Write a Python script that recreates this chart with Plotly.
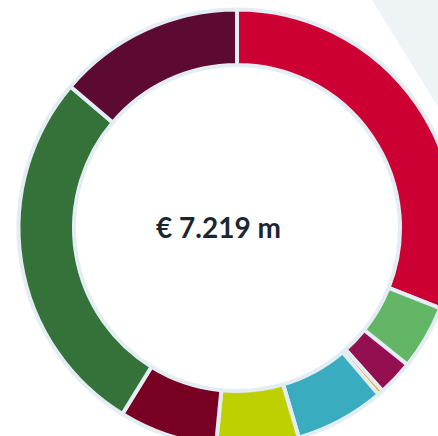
import plotly.graph_objects as go

# ---------------------------------------------------------------------------
# Data (EUR million)
# ---------------------------------------------------------------------------

SEGMENTS = ["Segment 1", "Segment 2", "Segment 3", "Segment 4", "Segment 5",
            "Segment 6", "Segment 7", "Segment 8", "Segment 9"]
VALUES = [2.237, 0.345, 0.190, 0.028, 0.480, 0.440, 0.524, 1.979, 0.996]
COLORS = ["#cc0033", "#62b665", "#930f4f", "#f0a30a", "#3aacbf",
          "#bfd000", "#780022", "#357239", "#5c0a32"]
TOTAL_LABEL = "€ 7.219 m"

# ---------------------------------------------------------------------------
# Design tokens
# ---------------------------------------------------------------------------

BORDER = "#e3edf3"
PANEL = "#eef3f6"
INK = "#1b2631"

W, H = 480, 480          # canvas is larger than the window; the right/bottom is cropped
CX, CY, R = 237, 228, 218.5


def px_x(v):
    return v / W


def px_y(v):
    return 1 - v / H


fig = go.Figure()

fig.add_trace(go.Pie(
    labels=SEGMENTS,
    values=VALUES,
    marker=dict(colors=COLORS, line=dict(color=BORDER, width=4)),
    hole=0.746,
    sort=False,
    direction="clockwise",
    rotation=0,
    textinfo="none",
    hoverinfo="label+value+percent",
    showlegend=False,
    domain=dict(x=[px_x(CX - R), px_x(CX + R)],
                y=[px_y(CY + R), px_y(CY - R)]),
))

fig.add_annotation(
    x=px_x(218), y=px_y(227), xref="paper", yref="paper",
    text=f"<b>{TOTAL_LABEL}</b>", showarrow=False,
    font=dict(family="Lato, sans-serif", size=28, color=INK),
)

# light decorative panel in the top-right corner
fig.add_shape(
    type="path", xref="paper", yref="paper", layer="below",
    path=f"M {px_x(372)} {px_y(0)} L {px_x(W)} {px_y(175)} L {px_x(W)} {px_y(0)} Z",
    fillcolor=PANEL, line=dict(width=0),
)

fig.update_layout(
    width=W, height=H,
    margin=dict(l=0, r=0, t=0, b=0),
    paper_bgcolor="white",
    plot_bgcolor="white",
)

fig.write_html(
    "out.html",
    config=dict(displayModeBar=False),
    post_script="document.body.style.margin='0';document.body.style.overflow='hidden';"
                "document.documentElement.style.overflow='hidden';",
)
